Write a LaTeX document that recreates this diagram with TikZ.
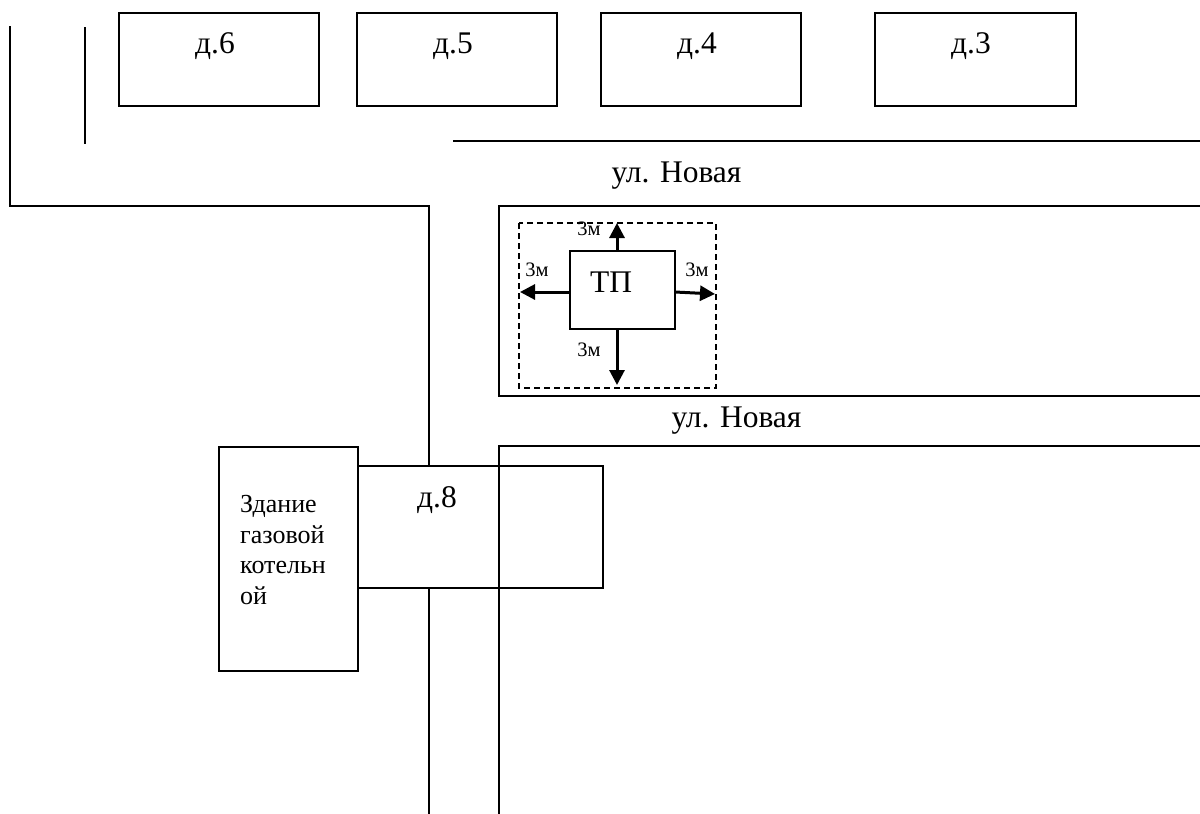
\documentclass[tikz,border=0pt]{standalone}
\usepackage{fontspec}
\setmainfont{Liberation Serif}
\usetikzlibrary{arrows.meta}
\tikzset{
  bx/.style={draw=black,line width=1.5pt,fill=white},
  road/.style={draw=black,line width=1.5pt,line join=miter},
  bigtext/.style={font=\fontsize{31.5}{38}\selectfont,inner sep=0pt,anchor=base},
  smalltext/.style={font=\fontsize{20.5}{24}\selectfont,inner sep=0pt,anchor=base},
  midtext/.style={font=\fontsize{26}{30.7}\selectfont,inner sep=0pt,anchor=north west,align=left},
  arr/.style={draw=black,line width=3pt,-{Triangle[length=15pt,width=15pt]},shorten >=0pt}
}
\begin{document}
\begin{tikzpicture}[x=1pt,y=-1pt]
\useasboundingbox (0,0) rectangle (1200,814);
% roads
\coordinate (r1a) at (85,27); \coordinate (r1b) at (85,144);
\draw[road] (r1a) -- (r1b);
\coordinate (r2a) at (10,26); \coordinate (r2b) at (10,206); \coordinate (r2c) at (429,206); \coordinate (r2d) at (429,466);
\draw[road] (r2a) -- (r2b) -- (r2c) -- (r2d);
\coordinate (r3a) at (453,141); \coordinate (r3b) at (1200,141);
\draw[road] (r3a) -- (r3b);
\coordinate (r4a) at (1200,206); \coordinate (r4b) at (499,206); \coordinate (r4c) at (499,396); \coordinate (r4d) at (1200,396);
\draw[road] (r4a) -- (r4b) -- (r4c) -- (r4d);
% buildings
\draw[bx] (119,13) rectangle (319,106);
\draw[bx] (357,13) rectangle (557,106);
\draw[bx] (601,13) rectangle (801,106);
\draw[bx] (875,13) rectangle (1076,106);
\node[bigtext] (d6) at (215,53) {д.6};
\node[bigtext] (d5) at (453,53) {д.5};
\node[bigtext] (d4) at (697,53) {д.4};
\node[bigtext] (d3) at (971,53) {д.3};
\node[bigtext] (n1) at (676.5,182) {ул. Новая};
\node[bigtext] (n2) at (736.5,427) {ул. Новая};
% д.8 and boiler house
\draw[bx,fill=none] (357,466) rectangle (603,588);
\coordinate (r5a) at (1200,446); \coordinate (r5b) at (499,446); \coordinate (r5c) at (499,814);
\draw[road] (r5a) -- (r5b) -- (r5c);
\coordinate (r6a) at (429,588); \coordinate (r6b) at (429,814);
\draw[road] (r6a) -- (r6b);
\draw[bx] (219,447) rectangle (358,671);
\node[bigtext] (d8) at (437,507) {д.8};
\node[midtext] (gas) at (240,495) {Здание\\газовой\\котельн\\ой};
% ТП
\draw[black,line width=1.5pt,dash pattern=on 6pt off 4pt] (519,223) rectangle (716,388);
\node[draw=black,line width=1.5pt,minimum width=105pt,minimum height=78pt,inner sep=0pt] (tp) at (622.5,290) {};
\node[bigtext] (tpt) at (611,292) {ТП};
\coordinate (au) at (617,223); \coordinate (al) at (520,292); \coordinate (ar) at (715,294); \coordinate (ad) at (617,385);
\draw[arr] (617,251) -- (au);
\draw[arr] (570,292) -- (al);
\draw[arr] (675,292) -- (ar);
\draw[arr] (617,329) -- (ad);
\node[smalltext] (m1) at (589,235) {3м};
\node[smalltext] (m2) at (537,276) {3м};
\node[smalltext] (m3) at (697,276) {3м};
\node[smalltext] (m4) at (589,356) {3м};
\end{tikzpicture}
\end{document}
